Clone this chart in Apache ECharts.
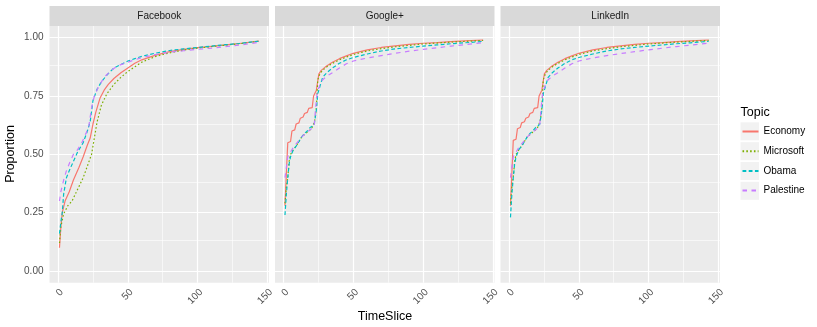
<!DOCTYPE html>
<html><head><meta charset="utf-8">
<script src="https://cdn.jsdelivr.net/npm/echarts@6/dist/echarts.min.js"></script>
<style>html,body{margin:0;padding:0;background:#fff}#c{width:817px;height:327px}</style>
</head><body><div id="c"></div>
<script>
// ---------- data ----------
const panels = ['Facebook', 'Google+', 'LinkedIn'];
const topics = ['Economy', 'Microsoft', 'Obama', 'Palestine'];
const xTicks = [0, 50, 100, 150];
const xMinor = [25, 75, 125];
const yTicks = [0, 0.25, 0.5, 0.75, 1];
const yMinor = [0.125, 0.375, 0.625, 0.875];

const facebookEconomy = [[1,0.10],[2,0.19],[3,0.25],[5,0.30],[8,0.34],[11,0.39],[15,0.445],[18,0.49],[21,0.54],[23,0.57],[25,0.63],[27,0.68],[30,0.74],[33,0.775],[36,0.80],[40,0.825],[45,0.85],[50,0.87],[55,0.89],[60,0.905],[70,0.925],[80,0.94],[90,0.95],[100,0.957],[110,0.963],[120,0.969],[130,0.975],[144,0.985]];
const facebookMicrosoft = [[1,0.12],[2,0.19],[4,0.245],[7,0.28],[10,0.30],[14,0.35],[18,0.40],[21,0.45],[24,0.50],[26,0.57],[28,0.64],[31,0.71],[35,0.76],[40,0.80],[45,0.83],[50,0.855],[55,0.875],[60,0.895],[70,0.92],[80,0.935],[90,0.947],[100,0.955],[110,0.962],[120,0.968],[130,0.974],[144,0.985]];
const facebookObama = [[1,0.16],[2,0.21],[3,0.25],[4,0.33],[6,0.40],[8,0.43],[11,0.47],[14,0.51],[18,0.55],[21,0.60],[23,0.64],[25,0.73],[28,0.78],[31,0.81],[35,0.84],[40,0.87],[45,0.885],[50,0.90],[55,0.91],[60,0.92],[70,0.934],[80,0.945],[90,0.952],[100,0.958],[110,0.964],[120,0.97],[130,0.975],[144,0.985]];
const facebookPalestine = [[1,0.30],[2,0.34],[4,0.39],[6,0.43],[8,0.46],[11,0.50],[14,0.52],[17,0.55],[20,0.59],[22,0.62],[24,0.70],[26,0.75],[29,0.79],[33,0.83],[38,0.86],[43,0.88],[50,0.895],[55,0.905],[60,0.915],[70,0.928],[80,0.938],[90,0.944],[100,0.95],[110,0.955],[120,0.962],[130,0.968],[144,0.98]];

const googleEconomy = [[1,0.28],[2,0.42],[3,0.55],[5,0.555],[6,0.60],[8,0.605],[9,0.63],[11,0.635],[12,0.655],[14,0.66],[15,0.675],[17,0.68],[18,0.697],[20.5,0.70],[21.5,0.75],[23.5,0.775],[24.5,0.78],[25.3,0.845],[27,0.86],[30,0.875],[35,0.895],[40,0.91],[45,0.922],[50,0.933],[60,0.948],[70,0.958],[80,0.965],[90,0.971],[100,0.976],[110,0.979],[120,0.983],[130,0.986],[143,0.99]];
const googleMicrosoft = [[1,0.29],[2,0.36],[3,0.40],[4,0.47],[5,0.50],[7,0.52],[9,0.535],[11,0.555],[13,0.575],[16,0.59],[19,0.605],[21,0.62],[22.5,0.65],[23.5,0.70],[24.5,0.82],[26,0.845],[28,0.86],[31,0.875],[35,0.89],[40,0.905],[45,0.917],[50,0.928],[60,0.943],[70,0.953],[80,0.961],[90,0.967],[100,0.973],[110,0.977],[120,0.981],[130,0.984],[143,0.988]];
const googleObama = [[1,0.24],[2,0.33],[3,0.40],[4,0.46],[5,0.49],[7,0.52],[9,0.535],[11,0.555],[13,0.575],[15,0.59],[17,0.60],[19,0.615],[20.5,0.62],[22,0.63],[23.5,0.69],[24.5,0.76],[26,0.79],[28,0.83],[31,0.85],[35,0.87],[40,0.89],[45,0.905],[50,0.915],[60,0.93],[70,0.943],[80,0.952],[90,0.958],[100,0.964],[110,0.969],[120,0.974],[130,0.978],[143,0.984]];
const googlePalestine = [[1,0.40],[3,0.49],[5,0.51],[7,0.53],[9,0.545],[11,0.56],[13,0.575],[15,0.585],[17,0.595],[19,0.605],[21,0.615],[22,0.63],[23,0.70],[24,0.76],[26,0.80],[28,0.82],[31,0.835],[35,0.85],[40,0.87],[45,0.888],[50,0.90],[60,0.913],[70,0.923],[80,0.933],[90,0.942],[100,0.95],[110,0.957],[120,0.964],[130,0.97],[143,0.979]];

const linkedinEconomy = [[1,0.28],[2,0.42],[3,0.56],[5,0.565],[6,0.61],[8,0.615],[9,0.635],[11,0.64],[12,0.655],[14,0.66],[15,0.675],[17,0.68],[18,0.697],[20.5,0.70],[21.5,0.75],[23.5,0.775],[24.5,0.78],[25.3,0.845],[27,0.86],[30,0.875],[35,0.895],[40,0.91],[45,0.922],[50,0.933],[60,0.948],[70,0.958],[80,0.965],[90,0.971],[100,0.976],[110,0.979],[120,0.983],[130,0.986],[143,0.99]];
const linkedinMicrosoft = [[1,0.29],[2,0.36],[3,0.40],[4,0.47],[5,0.50],[7,0.52],[9,0.535],[11,0.555],[13,0.575],[16,0.59],[19,0.605],[21,0.62],[22.5,0.65],[23.5,0.70],[24.5,0.82],[26,0.845],[28,0.86],[31,0.875],[35,0.89],[40,0.905],[45,0.917],[50,0.928],[60,0.943],[70,0.953],[80,0.961],[90,0.967],[100,0.973],[110,0.977],[120,0.981],[130,0.984],[143,0.988]];
const linkedinObama = [[1,0.23],[2,0.33],[3,0.40],[4,0.46],[5,0.49],[7,0.52],[9,0.535],[11,0.555],[13,0.575],[15,0.59],[17,0.60],[19,0.615],[20.5,0.62],[22,0.63],[23.5,0.69],[24.5,0.76],[26,0.79],[28,0.83],[31,0.85],[35,0.87],[40,0.89],[45,0.905],[50,0.915],[60,0.93],[70,0.943],[80,0.952],[90,0.958],[100,0.964],[110,0.969],[120,0.974],[130,0.978],[143,0.984]];
const linkedinPalestine = [[1,0.40],[3,0.49],[5,0.51],[7,0.53],[9,0.545],[11,0.56],[13,0.575],[15,0.585],[17,0.595],[19,0.605],[21,0.615],[22,0.63],[23,0.70],[24,0.76],[26,0.80],[28,0.82],[31,0.835],[35,0.85],[40,0.87],[45,0.888],[50,0.90],[60,0.913],[70,0.923],[80,0.932],[90,0.94],[100,0.948],[110,0.955],[120,0.962],[130,0.968],[143,0.977]];

const panelData = [
  [facebookEconomy, facebookMicrosoft, facebookObama, facebookPalestine],
  [googleEconomy, googleMicrosoft, googleObama, googlePalestine],
  [linkedinEconomy, linkedinMicrosoft, linkedinObama, linkedinPalestine]
];

// ---------- style ----------
const colors = ['#F8766D', '#7CAE00', '#00BFC4', '#C77CFF'];
const dashes = ['solid', [1.6, 2.2], [3.8, 2.4], [4.5, 4.5]];
const FONT = 'Liberation Sans, Arial, sans-serif';
const panelLefts = [49.5, 275, 500.5];
const panelW = 219.5, panelTop = 26, panelH = 256.7;
const W = 817, H = 327;

const grids = [], xAxes = [], yAxes = [], series = [], graphics = [];
panelLefts.forEach((l, i) => {
  grids.push({ left: l, top: panelTop, width: panelW, height: panelH, show: true,
    backgroundColor: '#EBEBEB', borderWidth: 0, containLabel: false });
  xAxes.push({ gridIndex: i, type: 'value', min: -6.15, max: 151.15,
    axisLine: { show: false }, splitLine: { show: false },
    axisTick: { show: true, length: 3, customValues: xTicks, lineStyle: { color: '#333333', width: 1 } },
    axisLabel: { customValues: xTicks, rotate: 45, margin: 4.5, align: 'right', verticalAlign: 'top',
      fontSize: 10, color: '#4D4D4D', fontFamily: FONT }
  });
  yAxes.push({ gridIndex: i, type: 'value', min: -0.05, max: 1.05,
    axisLine: { show: false }, splitLine: { show: false },
    axisTick: { show: i === 0, length: 3, customValues: yTicks, lineStyle: { color: '#333333', width: 1 } },
    axisLabel: { show: i === 0, customValues: yTicks, margin: 6, fontSize: 10, color: '#4D4D4D', fontFamily: FONT,
      formatter: v => v.toFixed(2) }
  });
  const ml = [];
  xMinor.forEach(v => ml.push({ xAxis: v, lineStyle: { color: '#FFFFFF', width: 0.6, type: 'solid' } }));
  yMinor.forEach(v => ml.push({ yAxis: v, lineStyle: { color: '#FFFFFF', width: 0.6, type: 'solid' } }));
  xTicks.forEach(v => ml.push({ xAxis: v, lineStyle: { color: '#FFFFFF', width: 1.2, type: 'solid' } }));
  yTicks.forEach(v => ml.push({ yAxis: v, lineStyle: { color: '#FFFFFF', width: 1.2, type: 'solid' } }));
  series.push({ type: 'line', name: '_grid' + i, xAxisIndex: i, yAxisIndex: i, data: [], silent: true,
    markLine: { silent: true, symbol: ['none', 'none'], label: { show: false }, animation: false, z: 1, data: ml } });
  topics.forEach((t, k) => {
    series.push({ type: 'line', name: t, xAxisIndex: i, yAxisIndex: i, data: panelData[i][k],
      symbol: 'none', showSymbol: false, smooth: false, z: 3, animation: false,
      lineStyle: { color: colors[k], width: 1.2, type: dashes[k] }, itemStyle: { color: colors[k] } });
  });
  graphics.push({ type: 'rect', shape: { x: l, y: 6, width: panelW, height: 20 }, style: { fill: '#D9D9D9' }, z: 0 });
  graphics.push({ type: 'text', x: l + panelW / 2, y: 16.5, style: { text: panels[i], fill: '#1A1A1A',
    font: '10px ' + FONT, textAlign: 'center', textVerticalAlign: 'middle' }, z: 1 });
});

// legend key backgrounds
const keyTops = [122.3, 142.2, 162, 181.8];
keyTops.forEach(y => graphics.push({ type: 'rect', shape: { x: 740.5, y: y, width: 18.5, height: 18 }, style: { fill: '#F2F2F2' }, z: 0 }));
graphics.push({ type: 'text', x: 740.5, y: 113, style: { text: 'Topic', fill: '#000000', font: '12.5px ' + FONT, textVerticalAlign: 'middle' } });
graphics.push({ type: 'text', x: 385, y: 317, style: { text: 'TimeSlice', fill: '#000000', font: '12.5px ' + FONT, textAlign: 'center', textVerticalAlign: 'middle' } });
graphics.push({ type: 'text', x: 11, y: 154, rotation: Math.PI / 2, style: { text: 'Proportion', fill: '#000000', font: '12.5px ' + FONT, textAlign: 'center', textVerticalAlign: 'middle' } });

const chart = echarts.init(document.getElementById('c'), null, { renderer: 'canvas', width: W, height: H });
chart.setOption({
  animation: false,
  backgroundColor: '#FFFFFF',
  grid: grids, xAxis: xAxes, yAxis: yAxes, series: series,
  legend: { data: topics, orient: 'vertical', left: 741.5, top: 124.3, itemWidth: 16, itemHeight: 18, itemGap: 5.3,
    padding: 0, selectedMode: false, itemStyle: { opacity: 0, borderWidth: 0 },
    textStyle: { fontSize: 10, color: '#000000', fontFamily: FONT } },
  graphic: graphics
});
</script></body></html>
